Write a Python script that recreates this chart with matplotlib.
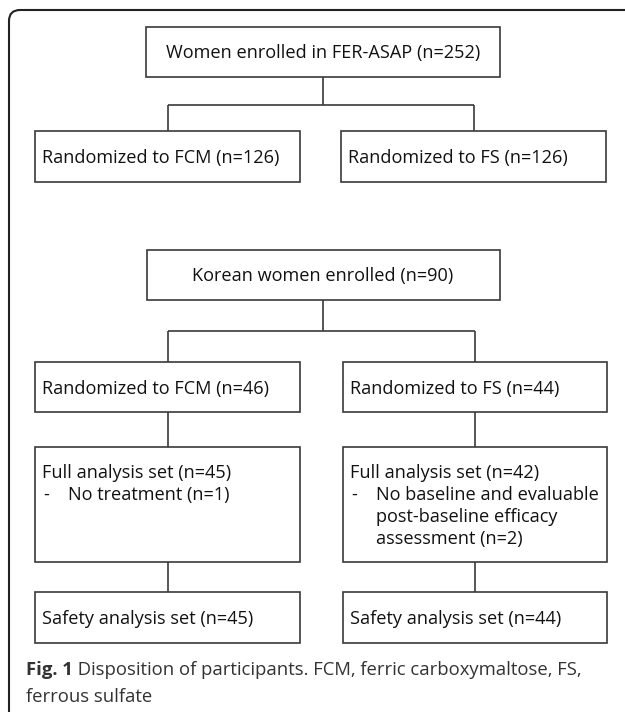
import matplotlib
matplotlib.use("Agg")
import matplotlib.pyplot as plt
from matplotlib.patches import Rectangle, PathPatch
from matplotlib.path import Path

# box texts
top_title = "Women enrolled in FER-ASAP (n=252)"
top_arms = ["Randomized to FCM (n=126)", "Randomized to FS (n=126)"]
kor_title = "Korean women enrolled (n=90)"
kor_arms = ["Randomized to FCM (n=46)", "Randomized to FS (n=44)"]
fas_head = ["Full analysis set (n=45)", "Full analysis set (n=42)"]
fas_items = [["No treatment (n=1)"],
             ["No baseline and evaluable", "post-baseline efficacy", "assessment (n=2)"]]
safety = ["Safety analysis set (n=45)", "Safety analysis set (n=44)"]
caption_bold = "Fig. 1"
caption_rest = " Disposition of participants. FCM, ferric carboxymaltose, FS,"
caption_line2 = "ferrous sulfate"

W, H = 625, 712
FONT = "Open Sans"
FS = 13.1
LC = "#3a3a3a"
LW = 1.2

fig = plt.figure(figsize=(W / 100, H / 100), dpi=100)
ax = fig.add_axes([0, 0, 1, 1])
ax.set_xlim(0, W)
ax.set_ylim(H, 0)
ax.axis("off")


def box(x0, y0, x1, y1):
    ax.add_patch(Rectangle((x0, y0), x1 - x0, y1 - y0, fill=False, ec=LC, lw=LW))


def line(xs, ys):
    ax.plot(xs, ys, color=LC, lw=LW, solid_capstyle="butt")


def split(xc, y_top, y_mid, xl, xr, y_bot):
    line([xc, xc], [y_top, y_mid])
    line([xl, xr], [y_mid, y_mid])
    line([xl, xl], [y_mid, y_bot])
    line([xr, xr], [y_mid, y_bot])


# outer frame with rounded top-left corner
verts = [(W + 5, 10), (20, 10), (9, 10), (9, 21), (9, H + 5)]
codes = [Path.MOVETO, Path.LINETO, Path.CURVE3, Path.CURVE3, Path.LINETO]
ax.add_patch(PathPatch(Path(verts, codes), fill=False, ec="#222222", lw=1.5))

txt = dict(fontsize=FS, family=FONT, color="#111111", va="center")

# upper block (FER-ASAP)
box(146, 27, 500, 77)
ax.text(323, 53, top_title, ha="center", **txt)
split(323, 77, 105, 168, 474, 131)
arm_x = [(35, 300), (341, 606)]
for (x0, x1), label in zip(arm_x, top_arms):
    box(x0, 131, x1, 182)
    ax.text(x0 + 7, 158, label, ha="left", **txt)

# lower block (Korean subgroup)
box(147, 250, 500, 300)
ax.text(323, 276, kor_title, ha="center", **txt)
split(323, 300, 331, 168, 475, 362)
arm_x = [(35, 300), (343, 607)]
for i, (x0, x1) in enumerate(arm_x):
    xc = 168 if i == 0 else 475
    box(x0, 362, x1, 412)
    ax.text(x0 + 7, 389, kor_arms[i], ha="left", **txt)
    line([xc, xc], [412, 447])
    box(x0, 447, x1, 562)
    ax.text(x0 + 7, 473, fas_head[i], ha="left", **txt)
    for j, item in enumerate(fas_items[i]):
        y = 495 + 22 * j
        if j == 0:
            ax.text(x0 + 8, y, "-", ha="left", **txt)
        ax.text(x0 + 33, y, item, ha="left", **txt)
    line([xc, xc], [562, 592])
    box(x0, 592, x1, 643)
    ax.text(x0 + 7, 619, safety[i], ha="left", **txt)

# caption
cap = dict(fontsize=13.3, family=FONT, color="#333333", va="center")
t = ax.text(26, 670, caption_bold, ha="left", fontweight="bold", **cap)
fig.canvas.draw()
bb = t.get_window_extent()
x_after = ax.transData.inverted().transform((bb.x1, 0))[0]
ax.text(x_after, 670, caption_rest, ha="left", **cap)
ax.text(26, 697, caption_line2, ha="left", **cap)

fig.savefig("out.png", dpi=100, facecolor="white")
